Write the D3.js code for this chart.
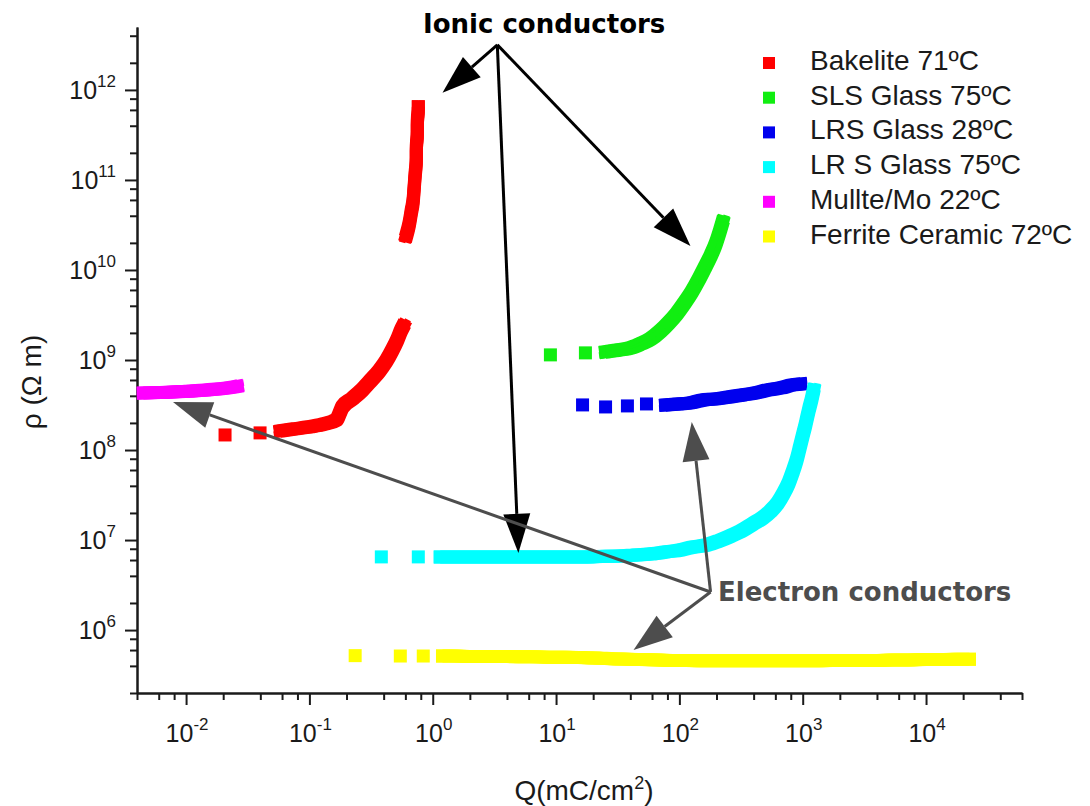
<!DOCTYPE html>
<html>
<head>
<meta charset="utf-8">
<title>Resistivity vs transported charge</title>
<script src="https://cdn.jsdelivr.net/npm/d3@7"></script>
<style>
body { margin: 0; background: #fff; }
text { font-family: "Liberation Sans", Arial, sans-serif; fill: #1a1a1a; }
.note { font-family: "DejaVu Sans", sans-serif; font-weight: bold; }
</style>
</head>
<body>
<svg id="drawing_region"></svg>
<script>
// [Q (mC/cm2), rho (Ohm m)]
const bakelite = [[0.0207,1.47e8],[0.0398,1.55e8],[0.058,1.63e8],[0.0766,1.72e8],[0.101,1.81e8],
    [0.132,1.95e8],[0.165,2.16e8],[0.185,3.01e8],[0.222,3.7e8],[0.268,4.66e8],[0.317,6.0e8],
    [0.368,7.57e8],[0.42,9.77e8],[0.47,1.29e9],[0.515,1.67e9],[0.556,2.16e9],[0.577,2.39e9],
    [0.61,2.39e10],[0.645,3.25e10],[0.67,4.42e10],[0.695,6.0e10],[0.708,8.38e10],[0.721,1.17e11],
    [0.736,1.63e11],[0.736,2.27e11],[0.75,3.17e11],[0.75,4.42e11],[0.764,6.0e11],[0.764,6.5e11]];
const slsGlass = [[9.0,1.14e9],[17.3,1.2e9],[25.2,1.23e9],[32.1,1.29e9],[40.1,1.36e9],[48.4,1.51e9],
    [58.3,1.71e9],[70.3,2.1e9],[81.7,2.58e9],[94.8,3.25e9],[110,4.31e9],[126,5.71e9],[143,7.77e9],
    [160,1.05e10],[179,1.43e10],[197,1.95e10],[212,2.65e10],[224,3.42e10]];
const lrsGlass28 = [[16.4,3.17e8],[25.2,3.01e8],[37.9,3.09e8],[54.1,3.25e8],[77.3,3.17e8],[96.6,3.25e8],
    [123,3.34e8],[157,3.6e8],[200,3.7e8],[255,3.89e8],[326,4.09e8],[415,4.31e8],[530,4.66e8],
    [662,4.9e8],[830,5.29e8],[962,5.42e8]];
const lrsGlass75 = [[0.383,6.5e6],[0.764,6.5e6],[1.15,6.5e6],[1.52,6.5e6],[2.02,6.5e6],[2.67,6.5e6],
    [3.53,6.5e6],[4.68,6.5e6],[6.19,6.5e6],[8.2,6.5e6],[10.8,6.5e6],[14.4,6.5e6],[19.0,6.5e6],
    [25.2,6.6e6],[33.3,6.65e6],[44.1,6.83e6],[58.3,7.0e6],[77.3,7.37e6],[102,7.76e6],[130,8.38e6],
    [166,8.81e6],[208,9.77e6],[260,1.11e7],[326,1.29e7],[393,1.51e7],[473,1.76e7],[550,2.1e7],
    [627,2.58e7],[701,3.33e7],[769,4.31e7],[830,5.71e7],[893,7.77e7],[944,1.05e8],[1000,1.44e8],
    [1057,1.95e8],[1117,2.72e8],[1183,3.7e8],[1227,4.66e8]];
const mulliteMo = [[0.0045,4.3e8],[0.0059,4.35e8],[0.0078,4.4e8],[0.0103,4.5e8],[0.0136,4.6e8],
    [0.018,4.75e8],[0.024,5.0e8],[0.026,5.1e8]];
const ferrite = [[0.235,5.2e5],[0.546,5.15e5],[0.838,5.15e5],[1.2,5.15e5],[1.5,5.15e5],[2,5.1e5],
    [2.7,5.1e5],[3.6,5.1e5],[5,5.05e5],[6.5,5.05e5],[9,5.0e5],[12,5.0e5],[16,4.95e5],[21,4.9e5],
    [28,4.8e5],[38,4.75e5],[50,4.7e5],[68,4.65e5],[90,4.6e5],[120,4.6e5],[160,4.55e5],[215,4.55e5],
    [290,4.55e5],[390,4.55e5],[520,4.55e5],[700,4.55e5],[930,4.55e5],[1250,4.55e5],[1650,4.6e5],
    [2200,4.6e5],[3000,4.6e5],[4000,4.6e5],[5300,4.65e5],[7100,4.65e5],[9500,4.7e5],[12700,4.7e5],
    [17000,4.75e5],[22500,4.75e5]];

const seriesNames = ["Bakelite 71ºC", "SLS Glass 75ºC", "LRS Glass 28ºC",
                     "LR S Glass 75ºC", "Mullte/Mo 22ºC", "Ferrite Ceramic 72ºC"];
const seriesColors = ["#ff0000", "#11ee11", "#0000ee", "#00ffff", "#ff00ff", "#ffff00"];
const seriesValues = [bakelite, slsGlass, lrsGlass28, lrsGlass75, mulliteMo, ferrite];

const xDomain = [4e-3, 6e4];
const yDomain = [2e5, 5e12];
const xTickExps = [-2, -1, 0, 1, 2, 3, 4];
const yTickExps = [6, 7, 8, 9, 10, 11, 12];
const minorSteps = [2, 4, 6, 8];

// annotation arrows, in data units
const ionicLabel = "Ionic conductors";
const ionicFrom = [3.34, 3.17e12];
const ionicTips = [[1.2, 9.3e11], [4.95, 7.2e6], [123, 1.85e10]];
const electronLabel = "Electron conductors";
const electronFrom = [179, 2.65e6];
const electronTips = [[0.00783, 3.42e8], [126, 2.05e8], [42.5, 6.0e5]];

class ResistivityChart {
    constructor(config) {
        this.config = config;
        this.init();
    }

    init() {
        let self = this;
        const c = self.config;

        self.svg = d3.select(c.parent)
            .attr('width', c.width)
            .attr('height', c.height);

        self.inner_width = c.width - c.margin.left - c.margin.right;
        self.inner_height = c.height - c.margin.top - c.margin.bottom;

        self.chart = self.svg.append('g')
            .attr('transform', `translate(${c.margin.left}, ${c.margin.top})`);

        self.xscale = d3.scaleLog().domain(xDomain).range([0, self.inner_width]);
        self.yscale = d3.scaleLog().domain(yDomain).range([self.inner_height, 0]);
    }

    minorTicks(domain) {
        const out = [];
        const lo = Math.floor(Math.log10(domain[0]));
        const hi = Math.ceil(Math.log10(domain[1]));
        for (let e = lo; e <= hi; e++) {
            minorSteps.forEach(m => {
                const v = m * Math.pow(10, e);
                if (v >= domain[0] * 0.999 && v <= domain[1] * 1.001) out.push(v);
            });
        }
        return out;
    }

    render() {
        let self = this;
        self.drawAxes();
        self.drawSeries();
        self.drawLegend();
        self.drawNotes();
    }

    drawAxes() {
        let self = this;
        const blank = () => "";

        const xg = self.chart.append('g').attr('transform', `translate(0, ${self.inner_height})`);
        xg.append('g').call(d3.axisBottom(self.xscale).tickValues(self.minorTicks(xDomain))
            .tickSize(7).tickSizeOuter(0).tickFormat(blank));
        xg.append('g').call(d3.axisBottom(self.xscale).tickValues(xTickExps.map(e => Math.pow(10, e)))
            .tickSize(12).tickSizeOuter(0).tickFormat(blank));

        const yg = self.chart.append('g');
        yg.append('g').call(d3.axisLeft(self.yscale).tickValues(self.minorTicks(yDomain))
            .tickSize(7).tickSizeOuter(0).tickFormat(blank));
        yg.append('g').call(d3.axisLeft(self.yscale).tickValues(yTickExps.map(e => Math.pow(10, e)))
            .tickSize(12).tickSizeOuter(0).tickFormat(blank));

        self.chart.selectAll('.domain, .tick line')
            .attr('stroke', '#1a1a1a')
            .attr('stroke-width', 2);

        // tick labels as 10 with superscript exponent
        xTickExps.forEach(e => {
            const t = self.chart.append('text')
                .attr('x', self.xscale(Math.pow(10, e)) + 1)
                .attr('y', self.inner_height + 49)
                .attr('text-anchor', 'middle');
            t.append('tspan').attr('font-size', 25).text('10');
            t.append('tspan').attr('font-size', 17).attr('dy', -12).text(e);
        });
        yTickExps.forEach(e => {
            const t = self.chart.append('text')
                .attr('x', -21)
                .attr('y', self.yscale(Math.pow(10, e)) + 9)
                .attr('text-anchor', 'end');
            t.append('tspan').attr('font-size', 25).text('10');
            t.append('tspan').attr('font-size', 17).attr('dy', -12).text(e);
        });

        const xt = self.svg.append('text')
            .attr('x', 584)
            .attr('y', 800)
            .attr('text-anchor', 'middle')
            .attr('font-size', 28);
        xt.append('tspan').text('Q(mC/cm');
        xt.append('tspan').attr('font-size', 18).attr('dy', -11).text('2');
        xt.append('tspan').attr('dy', 11).text(')');

        self.svg.append('text')
            .attr('transform', 'translate(41, 382) rotate(-90)')
            .attr('text-anchor', 'middle')
            .attr('font-size', 28)
            .text('ρ (Ω m)');
    }

    drawSeries() {
        let self = this;
        const size = 13;
        const line = d3.line()
            .x(d => self.xscale(d[0]))
            .y(d => self.yscale(d[1]))
            .curve(d3.curveMonotoneX);
        // square markers swept along the curve: centre stroke plus four corner copies
        const q = size / 4;
        const sweep = [[0, 0, size], [-q, -q, size / 2], [q, -q, size / 2], [-q, q, size / 2], [q, q, size / 2]];

        seriesValues.forEach((data, i) => {
            const g = self.chart.append('g');

            // join neighbouring points into a band, keep isolated points as squares
            const runs = [];
            let run = [data[0]];
            for (let k = 1; k < data.length; k++) {
                const dx = self.xscale(data[k][0]) - self.xscale(data[k - 1][0]);
                const dy = self.yscale(data[k][1]) - self.yscale(data[k - 1][1]);
                if (Math.hypot(dx, dy) < 18) {
                    run.push(data[k]);
                } else {
                    runs.push(run);
                    run = [data[k]];
                }
            }
            runs.push(run);

            runs.filter(r => r.length > 1).forEach(r => {
                g.selectAll(null)
                    .data(sweep)
                    .enter()
                    .append('path')
                    .attr('d', line(r))
                    .attr('transform', s => `translate(${s[0]}, ${s[1]})`)
                    .attr('fill', 'none')
                    .attr('stroke', seriesColors[i])
                    .attr('stroke-width', s => s[2])
                    .attr('stroke-linecap', 'square')
                    .attr('stroke-linejoin', 'round');
            });

            g.selectAll('rect')
                .data(runs.filter(r => r.length === 1).map(r => r[0]))
                .enter()
                .append('rect')
                .attr('x', d => self.xscale(d[0]) - size / 2)
                .attr('y', d => self.yscale(d[1]) - size / 2)
                .attr('width', size)
                .attr('height', size)
                .attr('fill', seriesColors[i]);
        });
    }

    drawLegend() {
        let self = this;
        const legend = self.svg.append('g');
        const rows = legend.selectAll('g')
            .data(seriesNames)
            .enter()
            .append('g')
            .attr('transform', (d, i) => `translate(763, ${70 + i * 34.7})`);
        rows.append('rect')
            .attr('x', 0)
            .attr('y', -13)
            .attr('width', 12)
            .attr('height', 12)
            .attr('fill', (d, i) => seriesColors[i]);
        rows.append('text')
            .attr('x', 47)
            .attr('y', 0)
            .attr('font-size', 28)
            .text(d => d);
    }

    drawArrows(from, tips, color) {
        let self = this;
        const x0 = self.xscale(from[0]);
        const y0 = self.yscale(from[1]);
        const len = 39, half = 13.5;
        tips.forEach(t => {
            const x1 = self.xscale(t[0]);
            const y1 = self.yscale(t[1]);
            const d = Math.hypot(x1 - x0, y1 - y0);
            const ux = (x1 - x0) / d, uy = (y1 - y0) / d;
            const bx = x1 - ux * len, by = y1 - uy * len;
            self.chart.append('line')
                .attr('x1', x0).attr('y1', y0)
                .attr('x2', bx).attr('y2', by)
                .attr('stroke', color)
                .attr('stroke-width', 3);
            self.chart.append('polygon')
                .attr('points', [[x1, y1], [bx - uy * half, by + ux * half], [bx + uy * half, by - ux * half]].join(' '))
                .attr('fill', color);
        });
    }

    drawNotes() {
        let self = this;
        self.drawArrows(ionicFrom, ionicTips, '#000000');
        self.drawArrows(electronFrom, electronTips, '#4d4d4d');

        self.svg.append('text')
            .attr('class', 'note')
            .attr('x', 423)
            .attr('y', 33)
            .attr('font-size', 26)
            .style('fill', '#000000')
            .text(ionicLabel);
        self.svg.append('text')
            .attr('class', 'note')
            .attr('x', 718)
            .attr('y', 601)
            .attr('font-size', 26)
            .style('fill', '#4d4d4d')
            .text(electronLabel);
    }
}

const config = {
    parent: '#drawing_region',
    width: 1090,
    height: 806,
    margin: {top: 27, right: 68, bottom: 113, left: 137}
};

const chart = new ResistivityChart(config);
chart.render();
</script>
</body>
</html>
